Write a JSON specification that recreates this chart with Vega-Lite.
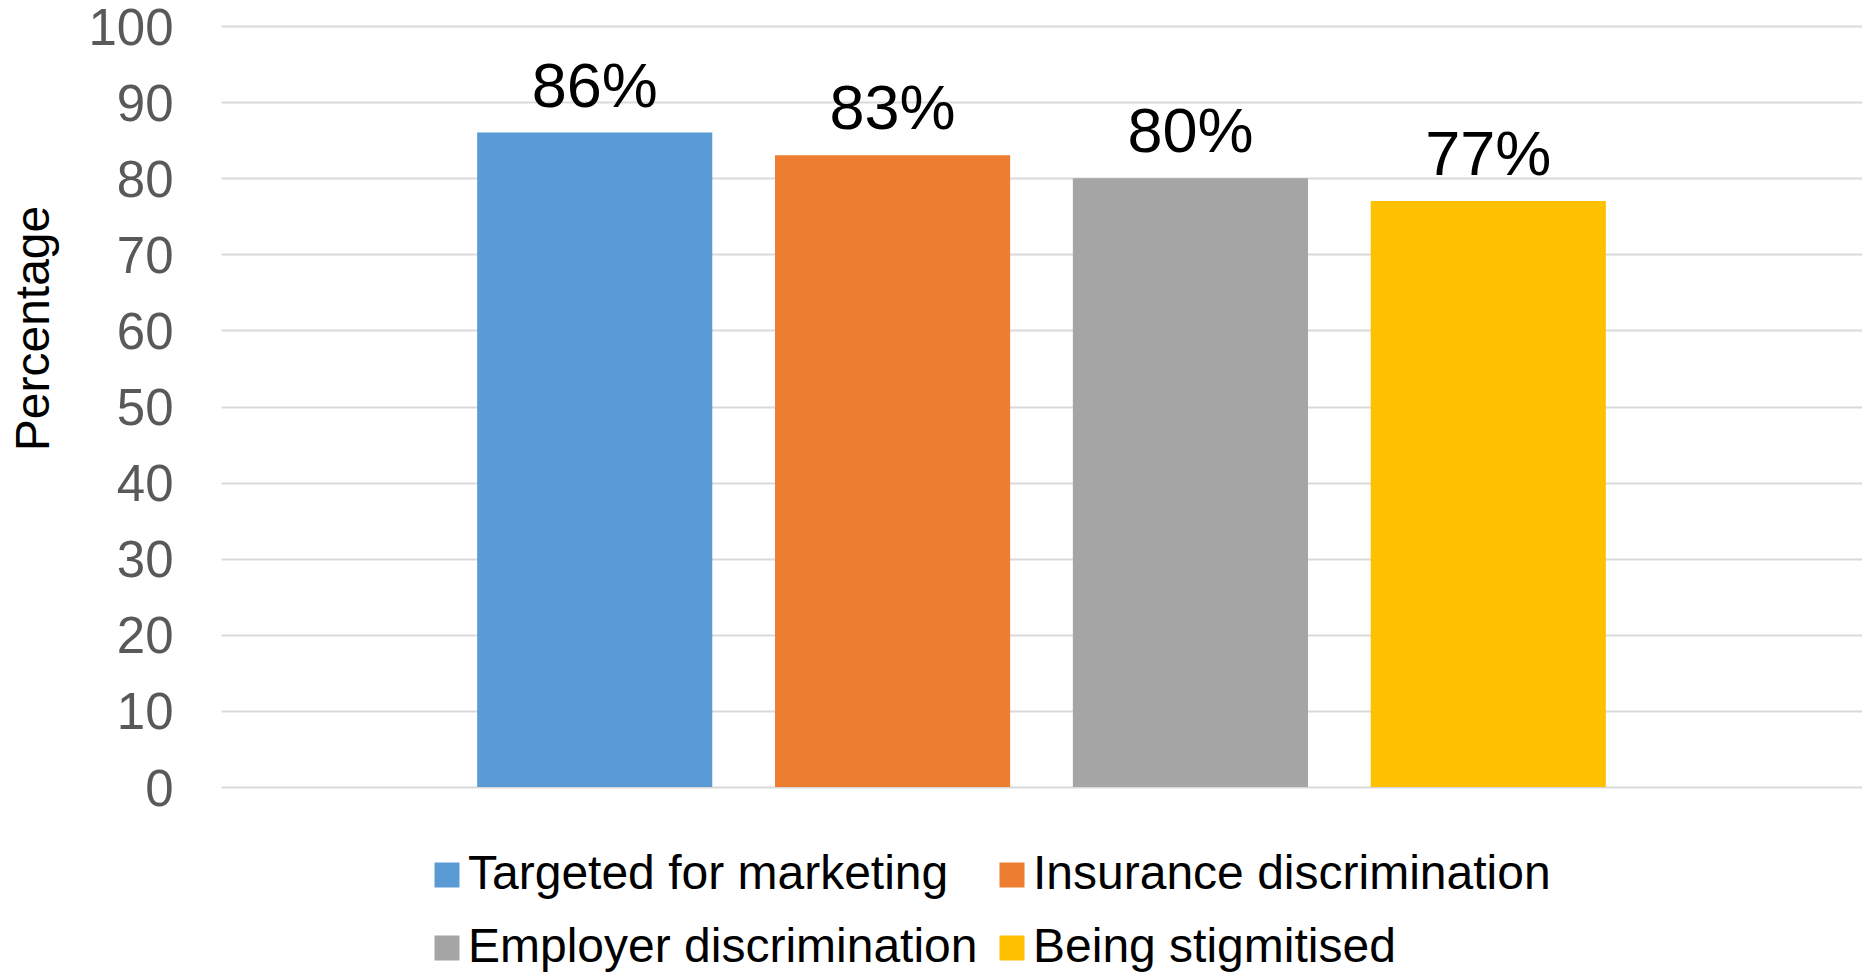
{
  "$schema": "https://vega.github.io/schema/vega-lite/v6.json",
  "width": 1641,
  "height": 761,
  "autosize": {"type": "none"},
  "padding": {"left": 221, "top": 26, "right": 0, "bottom": 185},
  "background": "white",
  "config": {
    "font": "Liberation Sans",
    "view": {"stroke": null}
  },
  "data": {
    "values": [
      {"concern": "Targeted for marketing", "percentage": 86, "label": "86%"},
      {"concern": "Insurance discrimination", "percentage": 83, "label": "83%"},
      {"concern": "Employer discrimination", "percentage": 80, "label": "80%"},
      {"concern": "Being stigmitised", "percentage": 77, "label": "77%"}
    ]
  },
  "encoding": {
    "x": {
      "field": "concern",
      "type": "nominal",
      "sort": null,
      "axis": null,
      "scale": {"paddingInner": 0.2106, "paddingOuter": 0.86}
    },
    "y": {
      "field": "percentage",
      "type": "quantitative",
      "scale": {"domain": [0, 100], "nice": false},
      "axis": {
        "title": "Percentage",
        "titleFontSize": 48,
        "titleFontWeight": "normal",
        "titleColor": "black",
        "titleAngle": -90,
        "titleAlign": "center",
        "titleBaseline": "top",
        "titleX": -211,
        "titleY": 302,
        "values": [0, 10, 20, 30, 40, 50, 60, 70, 80, 90, 100],
        "labelFontSize": 51,
        "labelColor": "#595959",
        "labelPadding": 48,
        "labelOffset": 3,
        "ticks": false,
        "domain": false,
        "grid": true,
        "gridColor": "#d9d9d9",
        "gridWidth": 2
      }
    }
  },
  "layer": [
    {
      "mark": {"type": "bar"},
      "encoding": {
        "color": {
          "field": "concern",
          "type": "nominal",
          "sort": null,
          "scale": {
            "domain": ["Targeted for marketing", "Insurance discrimination", "Employer discrimination", "Being stigmitised"],
            "range": ["#5B9BD5", "#ED7D31", "#A5A5A5", "#FFC000"]
          },
          "legend": {
            "title": null,
            "orient": "none",
            "legendX": 202,
            "legendY": 825,
            "direction": "horizontal",
            "columns": 2,
            "padding": 0,
            "symbolType": "square",
            "symbolSize": 625,
            "symbolStrokeWidth": 0,
            "symbolOpacity": 1,
            "labelFontSize": 48,
            "labelColor": "black",
            "labelOffset": -3,
            "labelLimit": 1000,
            "columnPadding": 10,
            "rowPadding": 25
          }
        }
      }
    },
    {
      "mark": {"type": "text", "fontSize": 63, "color": "black", "baseline": "alphabetic", "dy": -26},
      "encoding": {"text": {"field": "label"}}
    }
  ]
}
